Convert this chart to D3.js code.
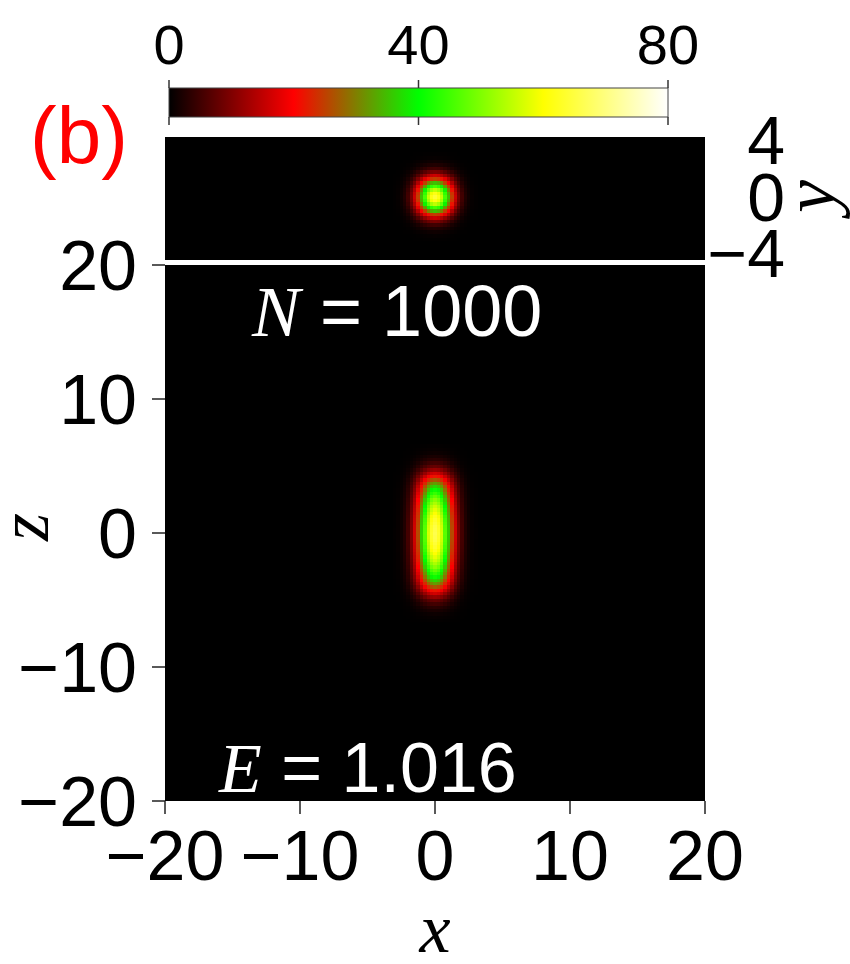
<!DOCTYPE html>
<html><head><meta charset="utf-8">
<script src="https://cdn.jsdelivr.net/npm/d3@7"></script>
<style>
html,body{margin:0;padding:0;background:#fff;}
svg{display:block;}
text{font-family:"Liberation Sans",Arial,Helvetica,sans-serif;}
.serif{font-family:"Liberation Serif","Times New Roman",serif;font-style:italic;}
</style></head><body>
<div id="chart"></div>
<script>
// ---------- data ----------
const xTicks = [-20, -10, 0, 10, 20];
const zTicks = [-20, -10, 0, 10, 20];
const yTopTicks = [-4, 0, 4];
const cbTicks = [0, 40, 80];
const colorStops = [0, 20, 40, 60, 80];
const colorRange = ["#000000", "#ff0000", "#00ff00", "#ffff00", "#ffffff"];

const xDomain = [-20, 20];
const zDomain = [-20, 20];
const yTopDomain = [-4.5, 4.2];
const cbDomain = [0, 80];

// density
const peakXZ = 66;   // peak density in x-z plane (y=0)
const peakXY = 64;   // peak density in x-y plane (z=0)
const gridStep = 0.25;
const gridX = [-3,-2.75,-2.5,-2.25,-2,-1.75,-1.5,-1.25,-1,-0.75,-0.5,-0.25,0,0.25,0.5,0.75,1,1.25,1.5,1.75,2,2.25,2.5,2.75,3];
const xProfile = [0.003,0.007,0.018,0.04,0.08,0.15,0.25,0.39,0.55,0.71,0.86,0.96,1.00,0.96,0.86,0.71,0.55,0.39,0.25,0.15,0.08,0.04,0.018,0.007,0.003];
const gridY = [-3,-2.75,-2.5,-2.25,-2,-1.75,-1.5,-1.25,-1,-0.75,-0.5,-0.25,0,0.25,0.5,0.75,1,1.25,1.5,1.75,2,2.25,2.5,2.75,3];
const yProfile = [0.003,0.007,0.018,0.04,0.08,0.15,0.25,0.39,0.55,0.71,0.86,0.96,1.00,0.96,0.86,0.71,0.55,0.39,0.25,0.15,0.08,0.04,0.018,0.007,0.003];
const gridZ = [-6.5,-6.25,-6,-5.75,-5.5,-5.25,-5,-4.75,-4.5,-4.25,-4,-3.75,-3.5,-3.25,-3,-2.75,-2.5,-2.25,-2,-1.75,-1.5,-1.25,-1,-0.75,-0.5,-0.25,
  0,0.25,0.5,0.75,1,1.25,1.5,1.75,2,2.25,2.5,2.75,3,3.25,3.5,3.75,4,4.25,4.5,4.75,5,5.25,5.5,5.75,6,6.25,6.5];
const zProfile = [0.004,0.008,0.015,0.03,0.05,0.08,0.12,0.18,0.25,0.33,0.41,0.49,0.56,0.62,0.67,0.72,0.77,0.81,0.85,0.88,0.91,0.94,0.96,0.975,0.99,0.995,
  1.00,0.995,0.99,0.975,0.96,0.94,0.91,0.88,0.85,0.81,0.77,0.72,0.67,0.62,0.56,0.49,0.41,0.33,0.25,0.18,0.12,0.08,0.05,0.03,0.015,0.008,0.004];

const labelN = "1000";
const labelE = "1.016";

// ---------- layout ----------
const W = 850, H = 964;
const svg = d3.select("#chart").append("svg").attr("width", W).attr("height", H);

const xS = d3.scaleLinear().domain(xDomain).range([165, 705]);
const zS = d3.scaleLinear().domain(zDomain).range([801, 265]);
const yS = d3.scaleLinear().domain(yTopDomain).range([260, 137]);
const cbS = d3.scaleLinear().domain(cbDomain).range([169, 668]);
const color = d3.scaleLinear().domain(colorStops).range(colorRange).clamp(true);
const fmt = t => t < 0 ? "\u2212" + Math.abs(t) : String(t);

// ---------- colorbar ----------
const defs = svg.append("defs");
const grad = defs.append("linearGradient").attr("id", "cbgrad").attr("x1", "0%").attr("x2", "100%");
colorStops.forEach((v, i) => grad.append("stop")
  .attr("offset", (v - cbDomain[0]) / (cbDomain[1] - cbDomain[0]))
  .attr("stop-color", colorRange[i]));
svg.append("rect").attr("x", cbS(0)).attr("y", 88).attr("width", cbS(80) - cbS(0)).attr("height", 29)
  .attr("fill", "url(#cbgrad)").attr("stroke", "#444").attr("stroke-width", 1);
cbTicks.forEach(t => {
  svg.append("line").attr("x1", cbS(t)).attr("x2", cbS(t)).attr("y1", 80).attr("y2", 88).attr("stroke", "#333").attr("stroke-width", 1.5);
  svg.append("line").attr("x1", cbS(t)).attr("x2", cbS(t)).attr("y1", 117).attr("y2", 125).attr("stroke", "#333").attr("stroke-width", 1.5);
  svg.append("text").attr("x", cbS(t)).attr("y", 64).attr("text-anchor", "middle")
    .attr("font-size", 56).attr("fill", "#000").text(fmt(t));
});

// ---------- top panel (x-y plane) ----------
svg.append("rect").attr("x", xS(-20)).attr("y", yS(yTopDomain[1])).attr("width", xS(20) - xS(-20))
  .attr("height", yS(yTopDomain[0]) - yS(yTopDomain[1])).attr("fill", "#000");
const topG = svg.append("g").attr("shape-rendering", "crispEdges");
gridX.forEach((x, i) => gridY.forEach((y, j) => {
  const v = peakXY * xProfile[i] * yProfile[j];
  topG.append("rect")
    .attr("x", xS(x - gridStep / 2)).attr("width", xS(x + gridStep / 2) - xS(x - gridStep / 2) + 0.5)
    .attr("y", yS(y + gridStep / 2)).attr("height", yS(y - gridStep / 2) - yS(y + gridStep / 2) + 0.5)
    .attr("fill", color(v));
}));
yTopTicks.forEach(t => {
  svg.append("text").attr("x", 785).attr("y", yS(t)).attr("dy", "0.36em").attr("text-anchor", "end")
    .attr("font-size", 68).attr("fill", "#000").text(fmt(t));
});
svg.append("text").attr("class", "serif").attr("transform", `translate(834,${yS(0)}) rotate(-90)`)
  .attr("text-anchor", "middle").attr("font-size", 74).attr("fill", "#000").text("y");

// ---------- main panel (x-z plane) ----------
svg.append("rect").attr("x", xS(-20)).attr("y", zS(20)).attr("width", xS(20) - xS(-20))
  .attr("height", zS(-20) - zS(20)).attr("fill", "#000");
const mainG = svg.append("g").attr("shape-rendering", "crispEdges");
gridX.forEach((x, i) => gridZ.forEach((z, j) => {
  const v = peakXZ * xProfile[i] * zProfile[j];
  mainG.append("rect")
    .attr("x", xS(x - gridStep / 2)).attr("width", xS(x + gridStep / 2) - xS(x - gridStep / 2) + 0.5)
    .attr("y", zS(z + gridStep / 2)).attr("height", zS(z - gridStep / 2) - zS(z + gridStep / 2) + 0.5)
    .attr("fill", color(v));
}));

// white separator line
svg.append("rect").attr("x", xS(-20)).attr("y", yS(yTopDomain[0])).attr("width", xS(20) - xS(-20))
  .attr("height", zS(20) - yS(yTopDomain[0])).attr("fill", "#fff");

// axes ticks
xTicks.forEach(t => {
  svg.append("line").attr("x1", xS(t)).attr("x2", xS(t)).attr("y1", zS(-20)).attr("y2", zS(-20) + 13)
    .attr("stroke", "#222").attr("stroke-width", 1.5);
  svg.append("text").attr("x", xS(t)).attr("y", 880).attr("text-anchor", "middle")
    .attr("font-size", 70).attr("fill", "#000").text(fmt(t));
});
zTicks.forEach(t => {
  svg.append("line").attr("x1", xS(-20) - 13).attr("x2", xS(-20)).attr("y1", zS(t)).attr("y2", zS(t))
    .attr("stroke", "#222").attr("stroke-width", 1.5);
  svg.append("text").attr("x", 137).attr("y", zS(t)).attr("dy", "0.35em").attr("text-anchor", "end")
    .attr("font-size", 70).attr("fill", "#000").text(fmt(t));
});

// axis labels
svg.append("text").attr("class", "serif").attr("x", xS(0)).attr("y", 952).attr("text-anchor", "middle")
  .attr("font-size", 70).attr("fill", "#000").text("x");
svg.append("text").attr("class", "serif").attr("transform", `translate(48,${zS(0) - 6}) rotate(-90)`)
  .attr("text-anchor", "middle").attr("font-size", 72).attr("fill", "#000").text("z");

// annotations
const tN = svg.append("text").attr("x", 252).attr("y", 336).attr("font-size", 72).attr("fill", "#fff");
tN.append("tspan").attr("class", "serif").text("N");
tN.append("tspan").text(" = " + labelN);
const tE = svg.append("text").attr("x", 219).attr("y", 792).attr("font-size", 70).attr("fill", "#fff");
tE.append("tspan").attr("class", "serif").text("E");
tE.append("tspan").text(" = " + labelE);

svg.append("text").attr("x", 30).attr("y", 163).attr("font-size", 80).attr("fill", "#ff0000").text("(b)");
</script>
</body></html>
